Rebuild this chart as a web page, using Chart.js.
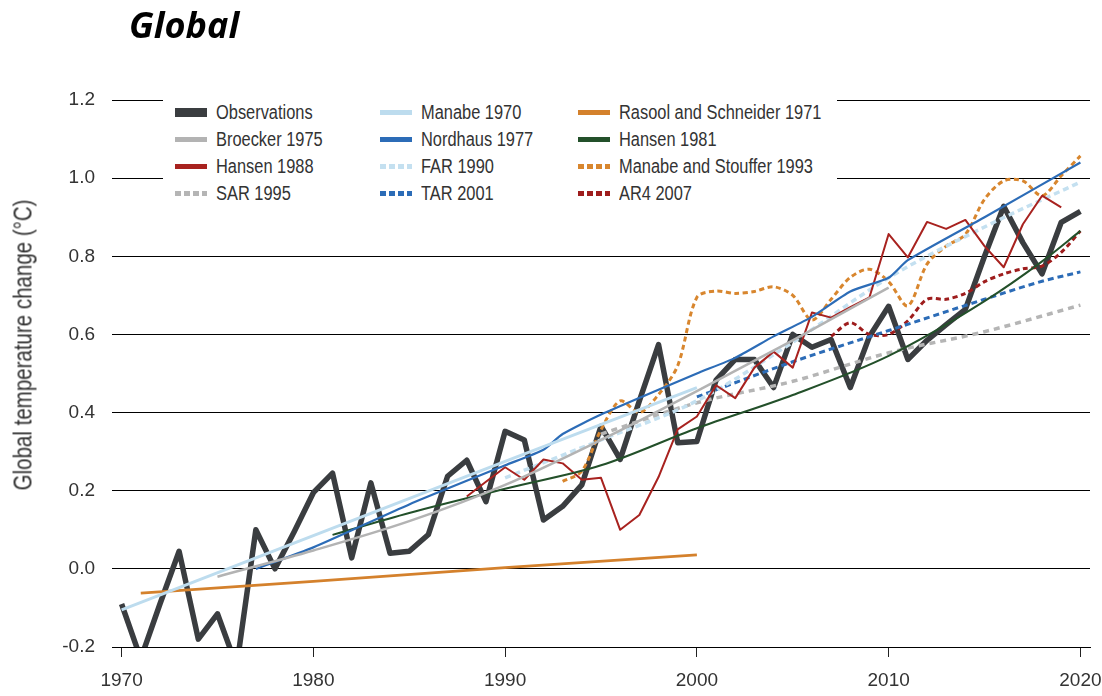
<!DOCTYPE html>
<html>
<head>
<meta charset="utf-8">
<script src="https://cdn.jsdelivr.net/npm/chart.js@4.4.0/dist/chart.umd.min.js"></script>
<style>
  html, body { margin: 0; padding: 0; background: #fff; }
  #wrap { position: relative; width: 1102px; height: 696px; }
  #title { position: absolute; left: 129px; top: 0px; font: italic bold 36px "Open Sans", "Noto Sans", sans-serif; color: #000; }
  #ytitle { position: absolute; left: 23px; top: 345px; transform: translate(-50%, -50%) rotate(-90deg) scaleX(0.82);
            white-space: nowrap; font-size: 25px; color: #333; }
  #legend { position: absolute; left: 163px; top: 96px; width: 674px; height: 110px; background: #fff; }
  .item { position: absolute; height: 26px; display: flex; align-items: center; font-size: 20px; color: #333; white-space: nowrap; }
  .item span { display: inline-block; transform: scaleX(0.82); transform-origin: 0 50%; }
  .sw { width: 32px; height: 5px; margin-right: 9px; }
  .narrow { font-family: 'Liberation Sans', Arial, sans-serif; }
</style>
</head>
<body>
<div id="wrap">
  <canvas id="chart" width="1102" height="696"></canvas>
  <div id="title">Global</div>
  <div id="ytitle" class="narrow">Global temperature change (°C)</div>
  <div id="legend" class="narrow"></div>
</div>
<script>
const TICKFONT = "'Liberation Sans', Arial, sans-serif";

// axis ticks
const xTicks = [1970, 1980, 1990, 2000, 2010, 2020];
const yTicks = [-0.2, 0, 0.2, 0.4, 0.6, 0.8, 1.0, 1.2];

// observations
const obsYears = [1970, 1971, 1972, 1973, 1974, 1975, 1976, 1977, 1978, 1979,
                  1980, 1981, 1982, 1983, 1984, 1985, 1986, 1987, 1988, 1989,
                  1990, 1991, 1992, 1993, 1994, 1995, 1996, 1997, 1998, 1999,
                  2000, 2001, 2002, 2003, 2004, 2005, 2006, 2007, 2008, 2009,
                  2010, 2011, 2012, 2013, 2014, 2015, 2016, 2017, 2018, 2019, 2020];
const obsValues = [-0.09, -0.23, -0.09, 0.045, -0.18, -0.115, -0.25, 0.10, 0.0, 0.095,
                   0.195, 0.245, 0.028, 0.22, 0.04, 0.045, 0.088, 0.237, 0.278, 0.172,
                   0.352, 0.33, 0.125, 0.16, 0.215, 0.365, 0.28, 0.43, 0.574, 0.323,
                   0.326, 0.483, 0.536, 0.536, 0.464, 0.60, 0.567, 0.587, 0.464, 0.595,
                   0.672, 0.536, 0.585, 0.625, 0.664, 0.80, 0.928, 0.835, 0.755, 0.887, 0.915];

// model projections
const manabe70Years = [1970, 1980, 1990, 2000];
const manabe70Values = [-0.105, 0.085, 0.275, 0.464];

const rasoolYears = [1971, 1980, 1990, 2000];
const rasoolValues = [-0.062, -0.032, 0.003, 0.036];

const broeckerYears = [1975, 1980, 1985, 1990, 1995, 2000, 2005, 2010];
const broeckerValues = [-0.02, 0.047, 0.122, 0.215, 0.33, 0.455, 0.585, 0.72];

const nordhausYears = [1977, 1980, 1985, 1990, 1992, 1993, 1995, 2000, 2002, 2004, 2006, 2008, 2010, 2011, 2015, 2020];
const nordhausValues = [0.0, 0.055, 0.165, 0.265, 0.305, 0.345, 0.395, 0.50, 0.54, 0.595, 0.645, 0.71, 0.745, 0.79, 0.90, 1.04];

const hansen81Years = [1981, 1985, 1990, 1995, 2000, 2005, 2010, 2015, 2018, 2020];
const hansen81Values = [0.087, 0.143, 0.205, 0.265, 0.36, 0.445, 0.545, 0.685, 0.787, 0.865];

const hansen88Years = [1988, 1989, 1990, 1991, 1992, 1993, 1994, 1995, 1996, 1997,
                       1998, 1999, 2000, 2001, 2002, 2003, 2004, 2005, 2006, 2007,
                       2008, 2009, 2010, 2011, 2012, 2013, 2014, 2015, 2016, 2017, 2018, 2019];
const hansen88Values = [0.185, 0.223, 0.26, 0.228, 0.28, 0.27, 0.228, 0.233, 0.10, 0.138,
                        0.235, 0.357, 0.39, 0.47, 0.437, 0.515, 0.556, 0.515, 0.656, 0.643,
                        0.67, 0.695, 0.857, 0.797, 0.888, 0.87, 0.893, 0.826, 0.772, 0.882, 0.955, 0.925];

const farYears = [1990, 1995, 2000, 2005, 2010, 2015, 2020];
const farValues = [0.233, 0.33, 0.43, 0.58, 0.745, 0.875, 0.99];

const stoufferYears = [1993, 1994, 1995, 1996, 1997, 1998, 1999, 2000, 2001, 2002,
                       2003, 2004, 2005, 2006, 2007, 2008, 2009, 2010, 2011, 2012,
                       2013, 2014, 2015, 2016, 2017, 2018, 2019, 2020];
const stoufferValues = [0.224, 0.25, 0.356, 0.43, 0.40, 0.446, 0.52, 0.695, 0.711, 0.705,
                        0.71, 0.722, 0.70, 0.637, 0.69, 0.746, 0.767, 0.735, 0.673, 0.78,
                        0.826, 0.856, 0.946, 0.993, 0.993, 0.955, 1.006, 1.057];

const sarYears = [1995, 2000, 2005, 2010, 2015, 2020];
const sarValues = [0.345, 0.425, 0.48, 0.553, 0.607, 0.675];

const tarYears = [2000, 2005, 2010, 2015, 2018, 2020];
const tarValues = [0.44, 0.53, 0.61, 0.69, 0.736, 0.76];

const ar4Years = [2007, 2008, 2009, 2010, 2011, 2012, 2013, 2014, 2015, 2016, 2017, 2018, 2019, 2020];
const ar4Values = [0.595, 0.63, 0.60, 0.60, 0.635, 0.69, 0.69, 0.705, 0.735, 0.755, 0.768, 0.775, 0.81, 0.865];

// legend order (row by row, three columns)
var series = [
    { label: 'Observations', years: obsYears, values: obsValues, color: '#3a3d40', width: 5.5, dash: [], tension: 0, swH: 9, order: 20 },
    { label: 'Manabe 1970', years: manabe70Years, values: manabe70Values, color: '#bddcee', width: 3, dash: [], tension: 0, swH: 5 },
    { label: 'Rasool and Schneider 1971', years: rasoolYears, values: rasoolValues, color: '#d4812c', width: 2.8, dash: [], tension: 0, swH: 5 },
    { label: 'Broecker 1975', years: broeckerYears, values: broeckerValues, color: '#b3b3b3', width: 2.5, dash: [], tension: 0.4, swH: 5 },
    { label: 'Nordhaus 1977', years: nordhausYears, values: nordhausValues, color: '#2c6cb7', width: 2.2, dash: [], tension: 0.2, swH: 5 },
    { label: 'Hansen 1981', years: hansen81Years, values: hansen81Values, color: '#23502a', width: 2, dash: [], tension: 0.4, swH: 5 },
    { label: 'Hansen 1988', years: hansen88Years, values: hansen88Values, color: '#a8221f', width: 2, dash: [], tension: 0, swH: 5 },
    { label: 'FAR 1990', years: farYears, values: farValues, color: '#c4e0f0', width: 3.5, dash: [6, 4], tension: 0.4, swH: 5 },
    { label: 'Manabe and Stouffer 1993', years: stoufferYears, values: stoufferValues, color: '#d8862e', width: 3, dash: [5, 3.5], tension: 0.3, swH: 5 },
    { label: 'SAR 1995', years: sarYears, values: sarValues, color: '#b5b5b5', width: 3.5, dash: [6, 5], tension: 0.4, swH: 5 },
    { label: 'TAR 2001', years: tarYears, values: tarValues, color: '#2c6cb7', width: 3, dash: [6, 4], tension: 0.4, swH: 5 },
    { label: 'AR4 2007', years: ar4Years, values: ar4Values, color: '#9e1d1d', width: 3, dash: [5, 3.5], tension: 0.3, swH: 5 }
];

var datasets = [];
for (var i = 0; i < series.length; i++) {
    var s = series[i];
    var pts = [];
    for (var j = 0; j < s.years.length; j++) {
        pts.push({ x: s.years[j], y: s.values[j] });
    }
    datasets.push({
        label: s.label,
        data: pts,
        borderColor: s.color,
        backgroundColor: s.color,
        borderWidth: s.width,
        borderDash: s.dash,
        tension: s.tension,
        cubicInterpolationMode: s.tension > 0.3 ? 'monotone' : 'default',
        borderJoinStyle: 'round',
        pointRadius: 0,
        fill: false,
        clip: 0,
        order: s.order || i
    });
}

// html legend
var legendCols = [12, 217, 415];
var legendRows = [16, 43, 70, 97];
var legendBox = document.getElementById('legend');
for (var i = 0; i < series.length; i++) {
    var s = series[i];
    var item = document.createElement('div');
    item.className = 'item';
    item.style.left = legendCols[i % 3] + 'px';
    item.style.top = (legendRows[Math.floor(i / 3)] - 13) + 'px';
    var sw = document.createElement('div');
    sw.className = 'sw';
    sw.style.height = s.swH + 'px';
    if (s.dash.length) {
        sw.style.background = 'repeating-linear-gradient(90deg, ' + s.color + ' 0 6px, transparent 6px 9px)';
    } else {
        sw.style.background = s.color;
    }
    item.appendChild(sw);
    var txt = document.createElement('span');
    txt.textContent = s.label;
    item.appendChild(txt);
    legendBox.appendChild(item);
}

var ctx = document.getElementById('chart').getContext('2d');
var chart = new Chart(ctx, {
    type: 'line',
    data: { datasets: datasets },
    options: {
        responsive: false,
        animation: false,
        layout: { padding: { top: 100, right: 12, left: 0, bottom: 0 } },
        plugins: { legend: { display: false }, tooltip: { enabled: false } },
        scales: {
            x: {
                type: 'linear',
                min: 1969.5,
                max: 2020.5,
                afterBuildTicks: function (scale) { scale.ticks = xTicks.map(function (v) { return { value: v }; }); },
                afterFit: function (scale) {
                    scale.height = 49;
                    scale.paddingLeft = 0;
                    scale.paddingRight = 0;
                },
                grid: { drawOnChartArea: false, drawTicks: true, tickLength: 10, color: '#222' },
                border: { display: true, color: '#000', width: 1 },
                ticks: {
                    padding: 12, maxRotation: 0, color: '#333',
                    font: { family: TICKFONT, size: 19 },
                    callback: function (v) { return String(v); }
                }
            },
            y: {
                min: -0.2,
                max: 1.2,
                afterBuildTicks: function (scale) { scale.ticks = yTicks.map(function (v) { return { value: v }; }); },
                afterFit: function (scale) {
                    scale.width = 112;
                    scale.paddingTop = 0;
                    scale.paddingBottom = 0;
                },
                grid: { color: '#000', lineWidth: 1, drawTicks: false },
                border: { display: false },
                ticks: {
                    padding: 17, color: '#333',
                    font: { family: TICKFONT, size: 19 },
                    callback: function (v) { return Number(v).toFixed(1); }
                }
            }
        }
    }
});
</script>
</body>
</html>
